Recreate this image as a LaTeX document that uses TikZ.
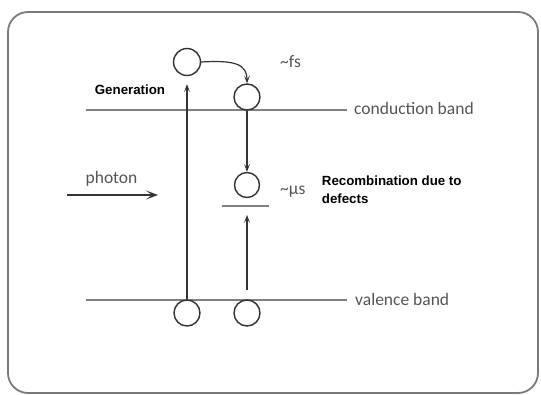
\documentclass[tikz,border=0pt]{standalone}
\usepackage{fontspec}
\setmainfont{Carlito}
\newfontfamily\boldsans{Liberation Sans}
\usetikzlibrary{arrows.meta}
\definecolor{framegrey}{HTML}{7A7A7A}
\definecolor{bandgrey}{HTML}{808080}
\definecolor{labelgrey}{HTML}{555555}
\definecolor{inkdark}{HTML}{333333}
\tikzset{
  frame/.style={draw=framegrey, line width=1.8pt, rounded corners=20pt},
  band/.style={draw=bandgrey, line width=2pt},
  carrier/.style={circle, draw=inkdark, line width=1.4pt, minimum size=26pt, inner sep=0pt},
  trans/.style={draw=inkdark, line width=1.2pt, -{Stealth[length=8pt,width=6pt,inset=4pt]}},
  photonarrow/.style={draw=inkdark, line width=1.4pt, -{Stealth[length=12pt,width=9pt,inset=6pt]}},
  greylabel/.style={inner sep=0pt, text=labelgrey, font=\fontsize{17.5}{19}\selectfont},
  boldlabel/.style={inner sep=0pt, text=black, font=\boldsans\bfseries\fontsize{13.3}{17.7}\selectfont, align=left}
}
\begin{document}
\begin{tikzpicture}[x=1pt,y=-1pt]
\useasboundingbox (0,0) rectangle (541,394);
\fill[white] (0,0) rectangle (541,394);
\draw[frame] (8,12) rectangle (538,393);

% bands
\coordinate (cbL) at (86,110);
\coordinate (cbR) at (347,110);
\coordinate (vbL) at (86,300);
\coordinate (vbR) at (347,300);
\coordinate (dfL) at (222,206);
\coordinate (dfR) at (269,206);
\coordinate (df) at (247,206);
\draw[band] (cbL) -- (cbR);
\draw[band] (vbL) -- (vbR);
\draw[band, line width=1.8pt] (dfL) -- (dfR);

% carriers
\node[carrier, minimum size=27pt] (c1) at (187,62) {};
\node[carrier] (c2) at (247,97) {};
\node[carrier, minimum size=25pt] (c3) at (247,185) {};
\node[carrier] (c4) at (187,313) {};
\node[carrier] (c5) at (247,313) {};

% transitions
\draw[trans] (c4.north) -- ([yshift=-8pt]c1.south);
\draw[trans] (c1.east) .. controls (235,60) and (247,64) .. (c2.north);
\draw[trans] (c2.south) -- (c3.north);
\draw[trans] ([yshift=9pt]c5.north) -- ([yshift=-9pt]df);

% photon
\coordinate (phA) at (67,195);
\coordinate (phB) at (158,195);
\draw[photonarrow] (phA) -- (phB);
\node[greylabel] (photon) at (111.5,179) {photon};

% labels
\node[boldlabel] (gen) at (130,90) {Generation};
\node[greylabel, anchor=west] (fs) at (280,62) {\char"007E fs};
\node[greylabel, anchor=west] (cb) at (354,108) {conduction band};
\node[greylabel, anchor=west] (vb) at (355,299) {valence band};
\node[greylabel, anchor=west] (mus) at (280,192) {\char"007E μs};
\node[boldlabel, anchor=north west] (rec) at (321.7,176) {Recombination due to\\defects};
\end{tikzpicture}
\end{document}
